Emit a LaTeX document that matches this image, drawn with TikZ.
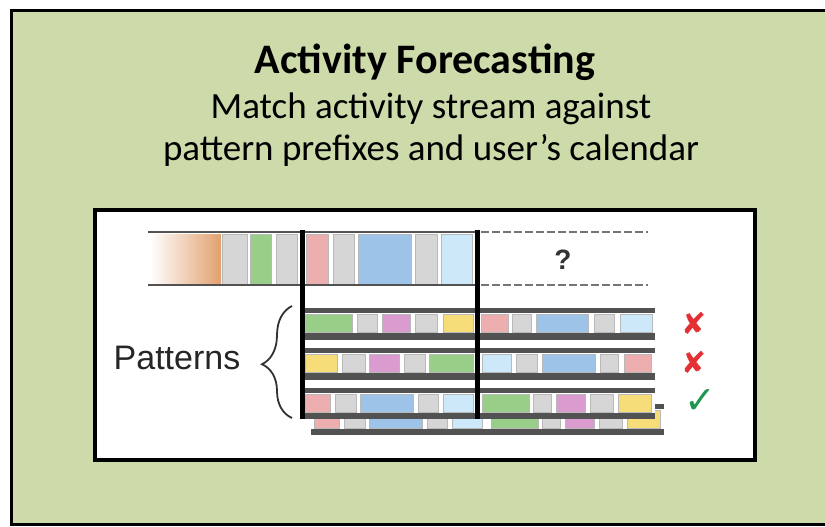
\documentclass[tikz,border=0pt]{standalone}
\usepackage{fontspec}
\setmainfont{Carlito}
\newfontfamily\arialfont{Liberation Sans}
\newfontfamily\dejavu{DejaVu Sans}
\usetikzlibrary{decorations.pathreplacing}

\definecolor{panelgreen}{RGB}{205,219,170}
\definecolor{cellgray}{RGB}{214,214,214}
\definecolor{cellgreen}{RGB}{152,206,136}
\definecolor{cellpink}{RGB}{236,174,174}
\definecolor{cellblue}{RGB}{157,196,232}
\definecolor{celllight}{RGB}{204,232,249}
\definecolor{cellmagenta}{RGB}{218,156,206}
\definecolor{cellyellow}{RGB}{247,221,122}
\definecolor{streamorange}{RGB}{226,160,110}
\definecolor{bargray}{RGB}{82,82,82}
\definecolor{crossred}{RGB}{226,48,52}
\definecolor{tickgreen}{RGB}{30,150,80}

\begin{document}
\begin{tikzpicture}[
	x=1pt, y=-1pt,
	cell/.style={
		draw=gray!55,
		line width=0.9pt
	},
	bar/.style={
		fill=bargray
	},
	streamline/.style={
		draw=bargray,
		line width=2pt
	},
	future/.style={
		draw=bargray!80,
		line width=1.6pt,
		dash pattern=on 8pt off 3pt
	},
	cutline/.style={
		draw=black,
		line width=5pt
	},
	verdict/.style={
		font=\dejavu\fontsize{30}{30}\selectfont,
		inner sep=0pt
	},
]

\useasboundingbox (0,0) rectangle (825,527);

%% Panels %%
\draw[line width=3pt, fill=panelgreen] (11,11) rectangle (880,524);
\draw[line width=4pt, fill=white] (95,210) rectangle (755,460);

%% Headings %%
\node[font=\bfseries\fontsize{42}{48}\selectfont] (title) at (425,62) {Activity Forecasting};
\node[font=\fontsize{37}{42}\selectfont, align=center] (subtitle) at (431,130)
	{Match activity stream against\\pattern prefixes and user’s calendar};

%% Activity stream %%
\shade[left color=white, right color=streamorange] (150,234) rectangle (221,284);
\foreach \a/\b/\c in {222/247/cellgray, 250/271/cellgreen, 276/297/cellgray,
		306/328/cellpink, 333/354/cellgray, 358/411/cellblue, 415/437/cellgray,
		441/472/celllight}
	\draw[cell, fill=\c] (\a,234) rectangle (\b,284);
\draw[streamline] (148,232) -- (477,232);
\draw[streamline] (148,285) -- (477,285);

% unknown continuation %
\draw[future] (481,232) -- (648,232);
\draw[future] (481,285) -- (648,285);
\node[font=\arialfont\bfseries\fontsize{28}{28}\selectfont, text=black!80] (unknown) at (563,260) {?};

%% Patterns %%
% hidden pattern behind the last one %
\begin{scope}[shift={(9,16)}]
\fill[bar] (302,388) rectangle (655,419);
\fill[white] (302,393) rectangle (655,413);
\foreach \a/\b/\c in {305/330/cellpink, 335/356/cellgray, 360/413/cellblue,
		418/438/cellgray, 443/473/celllight, 482/529/cellgreen, 533/551/cellgray,
		556/585/cellmagenta, 590/613/cellgray, 618/651/cellyellow}
	\draw[cell, fill=\c] (\a,394) rectangle (\b,412);
\end{scope}

% pattern 1 %
\fill[bar] (302,308) rectangle (655,340);
\fill[white] (302,313) rectangle (655,333);
\foreach \a/\b/\c in {305/352/cellgreen, 357/377/cellgray, 382/410/cellmagenta,
		415/437/cellgray, 443/473/cellyellow, 481/508/cellpink, 512/531/cellgray,
		536/588/cellblue, 594/614/cellgray, 620/652/celllight}
	\draw[cell, fill=\c] (\a,314) rectangle (\b,332);

% pattern 2 %
\fill[bar] (302,348) rectangle (655,380);
\fill[white] (302,353) rectangle (655,373);
\foreach \a/\b/\c in {305/337/cellyellow, 342/365/cellgray, 369/399/cellmagenta,
		404/425/cellgray, 429/473/cellgreen, 482/511/celllight, 516/537/cellgray,
		542/595/cellblue, 600/618/cellgray, 624/651/cellpink}
	\draw[cell, fill=\c] (\a,354) rectangle (\b,372);

% pattern 3 %
\fill[bar] (302,388) rectangle (655,419);
\fill[white] (302,393) rectangle (655,413);
\foreach \a/\b/\c in {305/330/cellpink, 335/356/cellgray, 360/413/cellblue,
		418/438/cellgray, 443/473/celllight, 482/529/cellgreen, 533/551/cellgray,
		556/585/cellmagenta, 590/613/cellgray, 618/651/cellyellow}
	\draw[cell, fill=\c] (\a,394) rectangle (\b,412);

% current window %
\draw[cutline] (302,230) -- (302,419);
\draw[cutline] (477,230) -- (477,419);

%% Label and brace %%
\node[font=\arialfont\fontsize{34}{34}\selectfont, text=black!85] (patlabel) at (177,358) {Patterns};
\coordinate (bracetop) at (292,306);
\coordinate (bracebot) at (292,418);
\draw[decorate, decoration={brace, amplitude=30pt, aspect=0.48}, line width=1.8pt, black!80]
	(bracebot) -- (bracetop);

%% Match results %%
\node[verdict, text=crossred] (miss1) at (694,323) {✘};
\node[verdict, text=crossred] (miss2) at (694,362) {✘};
\node[verdict, text=tickgreen, font=\dejavu\fontsize{38}{38}\selectfont] (hit) at (700,402) {✓};

\end{tikzpicture}
\end{document}
